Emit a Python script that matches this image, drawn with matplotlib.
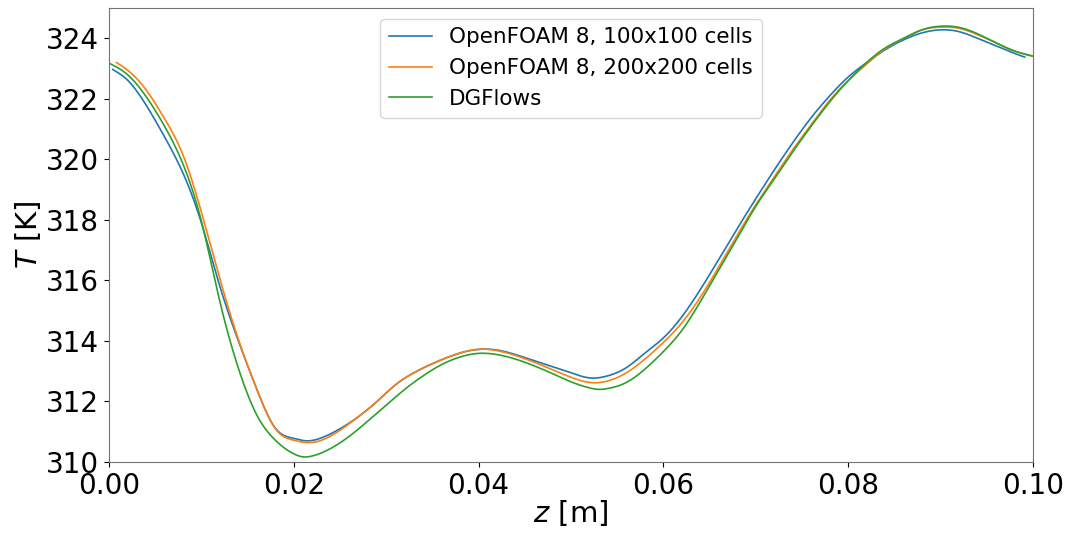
import matplotlib
matplotlib.use("Agg")
import matplotlib.pyplot as plt
import numpy as np

# centre-line temperature, OpenFOAM 8 on 100x100 cells
z_of100 = [0.0004, 0.002, 0.004, 0.006, 0.008, 0.010, 0.012, 0.014, 0.016, 0.018,
           0.020, 0.0214, 0.023, 0.025, 0.027, 0.029, 0.031, 0.033, 0.035, 0.037,
           0.039, 0.0405, 0.042, 0.044, 0.046, 0.048, 0.050, 0.052, 0.054, 0.056,
           0.058, 0.060, 0.062, 0.064, 0.066, 0.068, 0.070, 0.072, 0.074, 0.076,
           0.078, 0.080, 0.082, 0.084, 0.086, 0.088, 0.090, 0.092, 0.094, 0.096,
           0.098, 0.0991]
T_of100 = [322.97, 322.62, 321.8, 320.75, 319.55, 317.9, 315.8, 314.0, 312.4, 311.12,
           310.78, 310.70, 310.8, 311.1, 311.5, 312.0, 312.55, 312.95, 313.25, 313.5,
           313.68, 313.73, 313.7, 313.55, 313.35, 313.15, 312.95, 312.78, 312.85, 313.12,
           313.6, 314.1, 314.8, 315.7, 316.7, 317.72, 318.7, 319.65, 320.55, 321.38,
           322.1, 322.72, 323.2, 323.62, 323.95, 324.18, 324.28, 324.22, 324.0, 323.75,
           323.5, 323.38]

# OpenFOAM 8 on 200x200 cells
z_of200 = [0.0008, 0.002, 0.004, 0.006, 0.008, 0.010, 0.012, 0.014, 0.016, 0.018,
           0.020, 0.0216, 0.023, 0.025, 0.027, 0.029, 0.031, 0.033, 0.035, 0.037,
           0.039, 0.0405, 0.042, 0.044, 0.046, 0.048, 0.050, 0.0524, 0.054, 0.056,
           0.058, 0.060, 0.062, 0.064, 0.066, 0.068, 0.070, 0.072, 0.074, 0.076,
           0.078, 0.080, 0.082, 0.084, 0.086, 0.088, 0.090, 0.092, 0.094, 0.096,
           0.098, 0.100]
T_of200 = [323.2, 322.95, 322.3, 321.35, 320.15, 318.25, 316.05, 314.05, 312.4, 311.1,
           310.72, 310.64, 310.72, 311.05, 311.5, 312.0, 312.55, 312.95, 313.25, 313.5,
           313.68, 313.73, 313.68, 313.52, 313.3, 313.05, 312.8, 312.62, 312.68, 312.95,
           313.4, 313.95, 314.6, 315.45, 316.45, 317.5, 318.5, 319.42, 320.32, 321.15,
           321.95, 322.6, 323.15, 323.65, 324.0, 324.28, 324.37, 324.33, 324.12, 323.85,
           323.58, 323.41]

# DGFlows
z_dg = [0.000, 0.002, 0.004, 0.006, 0.008, 0.010, 0.012, 0.014, 0.016, 0.018,
        0.020, 0.021, 0.022, 0.024, 0.026, 0.028, 0.030, 0.032, 0.034, 0.036,
        0.038, 0.040, 0.042, 0.044, 0.046, 0.048, 0.050, 0.052, 0.053, 0.054,
        0.056, 0.058, 0.060, 0.062, 0.064, 0.066, 0.068, 0.070, 0.072, 0.074,
        0.076, 0.078, 0.080, 0.082, 0.084, 0.086, 0.088, 0.090, 0.092, 0.094,
        0.096, 0.098, 0.100]
T_dg = [323.18, 322.8, 322.08, 321.1, 319.85, 317.95, 315.3, 313.1, 311.55, 310.72,
        310.27, 310.17, 310.2, 310.45, 310.85, 311.35, 311.88, 312.4, 312.85, 313.22,
        313.47, 313.59, 313.55, 313.4, 313.18, 312.92, 312.65, 312.45, 312.40, 312.43,
        312.63, 313.07, 313.65, 314.35, 315.3, 316.35, 317.4, 318.45, 319.35, 320.25,
        321.1, 321.9, 322.6, 323.2, 323.68, 324.0, 324.28, 324.4, 324.36, 324.15,
        323.85, 323.58, 323.41]

labels = ["OpenFOAM 8, 100x100 cells", "OpenFOAM 8, 200x200 cells", "DGFlows"]


def spline(x, y, n=800):
    # natural cubic spline through the points
    x = np.asarray(x, float)
    y = np.asarray(y, float)
    m = len(x)
    h = np.diff(x)
    A = np.zeros((m, m))
    r = np.zeros(m)
    A[0, 0] = A[-1, -1] = 1.0
    for i in range(1, m - 1):
        A[i, i - 1] = h[i - 1]
        A[i, i] = 2 * (h[i - 1] + h[i])
        A[i, i + 1] = h[i]
        r[i] = 6 * ((y[i + 1] - y[i]) / h[i] - (y[i] - y[i - 1]) / h[i - 1])
    M = np.linalg.solve(A, r)
    xx = np.linspace(x[0], x[-1], n)
    i = np.clip(np.searchsorted(x, xx) - 1, 0, m - 2)
    a = x[i + 1] - xx
    b = xx - x[i]
    yy = (M[i] * a**3 / (6 * h[i]) + M[i + 1] * b**3 / (6 * h[i])
          + (y[i] / h[i] - M[i] * h[i] / 6) * a
          + (y[i + 1] / h[i] - M[i + 1] * h[i] / 6) * b)
    return xx, yy


fig = plt.figure(figsize=(10.71, 5.36), dpi=100)
ax = fig.add_axes([0.1018, 0.138, 0.8627, 0.847])

for z, T, lab in [(z_of100, T_of100, labels[0]),
                  (z_of200, T_of200, labels[1]),
                  (z_dg, T_dg, labels[2])]:
    zz, TT = spline(z, T)
    ax.plot(zz, TT, lw=1.2, label=lab)

ax.set_xlim(0, 0.1)
ax.set_ylim(310, 325)
ax.set_xticks([0.0, 0.02, 0.04, 0.06, 0.08, 0.10])
ax.set_xticklabels(["0.00", "0.02", "0.04", "0.06", "0.08", "0.10"])
ax.set_yticks([310, 312, 314, 316, 318, 320, 322, 324])
ax.tick_params(labelsize=20)
for s in ax.spines.values():
    s.set_color("0.45")
ax.set_xlabel("$z$ [m]", fontsize=21, labelpad=-1)
ax.set_ylabel("$T$ [K]", fontsize=21, labelpad=2)
ax.legend(loc="upper center", fontsize=15.5)

fig.savefig("out.png", dpi=100)
